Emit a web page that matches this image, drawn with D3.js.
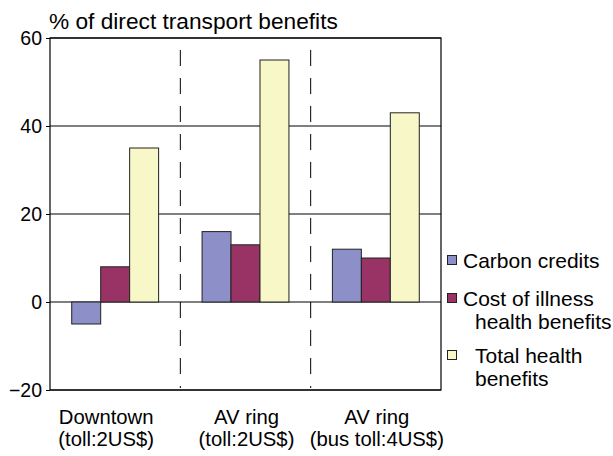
<!DOCTYPE html>
<html><head><meta charset="utf-8">
<script src="https://cdn.jsdelivr.net/npm/d3@7"></script>
<style>body{margin:0;background:#fff}svg{display:block;font-family:"Liberation Sans",Arial,sans-serif}</style>
</head><body><svg id="c" width="613" height="456"></svg>
<script>
const categories = [["Downtown","(toll:2US$)"],["AV ring","(toll:2US$)"],["AV ring","(bus toll:4US$)"]];
const seriesNames = ["Carbon credits","Cost of illness|health benefits","Total health|benefits"];
const carbon = [-5,16,12];
const illness = [8,13,10];
const total = [35,55,43];
const yTicks = [-20,0,20,40,60];
const colors = ["#8c8fc8","#993366","#f8f7c8"];
const title = "% of direct transport benefits";

const svg = d3.select("#c");
const L=50,R=441,T=38,B=390;
const x = d3.scaleBand().domain(d3.range(categories.length)).range([L,R]).paddingInner(0).paddingOuter(0);
const y = d3.scaleLinear().domain([-20,60]).range([B,T]);
const inner = d3.scaleBand().domain(d3.range(3)).range([0,x.bandwidth()]).paddingOuter(0.75).paddingInner(0);
const series=[carbon,illness,total];

// gridlines
svg.append("g").selectAll("line").data(yTicks).join("line")
 .attr("x1",L).attr("x2",R).attr("y1",d=>y(d)).attr("y2",d=>y(d)).attr("stroke","#000").attr("stroke-width",1.2);
// dashed separators
svg.append("g").selectAll("line").data([1,2]).join("line")
 .attr("x1",i=>x(i)).attr("x2",i=>x(i)).attr("y1",T+12).attr("y2",B-2)
 .attr("stroke","#000").attr("stroke-width",1).attr("stroke-dasharray","16,12");
// bars
series.forEach((s,si)=>{
 svg.append("g").selectAll("rect").data(s).join("rect")
  .attr("x",(d,i)=>x(i)+inner(si)).attr("width",inner.bandwidth())
  .attr("y",d=>y(Math.max(0,d))).attr("height",d=>Math.abs(y(d)-y(0)))
  .attr("fill",colors[si]).attr("stroke","#222").attr("stroke-width",1);
});
// frame
svg.append("rect").attr("x",L).attr("y",T).attr("width",R-L).attr("height",B-T).attr("fill","none").attr("stroke","#000").attr("stroke-width",1.2);
// y axis
const ya = svg.append("g").attr("transform",`translate(${L},0)`).call(d3.axisLeft(y).tickValues(yTicks).tickSize(4).tickPadding(4));
ya.select(".domain").remove();
ya.selectAll("text").attr("font-size",19.5).attr("fill","#000").attr("font-family","Liberation Sans, Arial");
ya.selectAll("line").attr("stroke","#000");
// title
svg.append("text").attr("x",L-1).attr("y",29).attr("font-size",22.7).text(title);
// category labels
const cg = svg.append("g").selectAll("text").data(categories).join("text")
 .attr("x",(d,i)=>x(i)+x.bandwidth()/2+(i===0?-9:1)).attr("y",424).attr("text-anchor","middle").attr("font-size",20.3);
cg.selectAll("tspan").data(d=>d).join("tspan").attr("x",function(){return this.parentNode.getAttribute("x");})
 .attr("dy",(d,i)=>i===0?0:22).text(d=>d);
// legend
const lg = svg.append("g");
const ly=[268,306,363];
const lx=[[463],[463,475],[475,475]];
seriesNames.forEach((n,i)=>{
 lg.append("rect").attr("x",447.5).attr("y",ly[i]-12.5).attr("width",9).attr("height",9).attr("fill",colors[i]).attr("stroke","#222");
 const t = lg.append("text").attr("y",ly[i]).attr("font-size",21);
 n.split("|").forEach((p,j)=>t.append("tspan").attr("x",lx[i][j]).attr("dy",j===0?0:23).text(p));
});
</script></body></html>
